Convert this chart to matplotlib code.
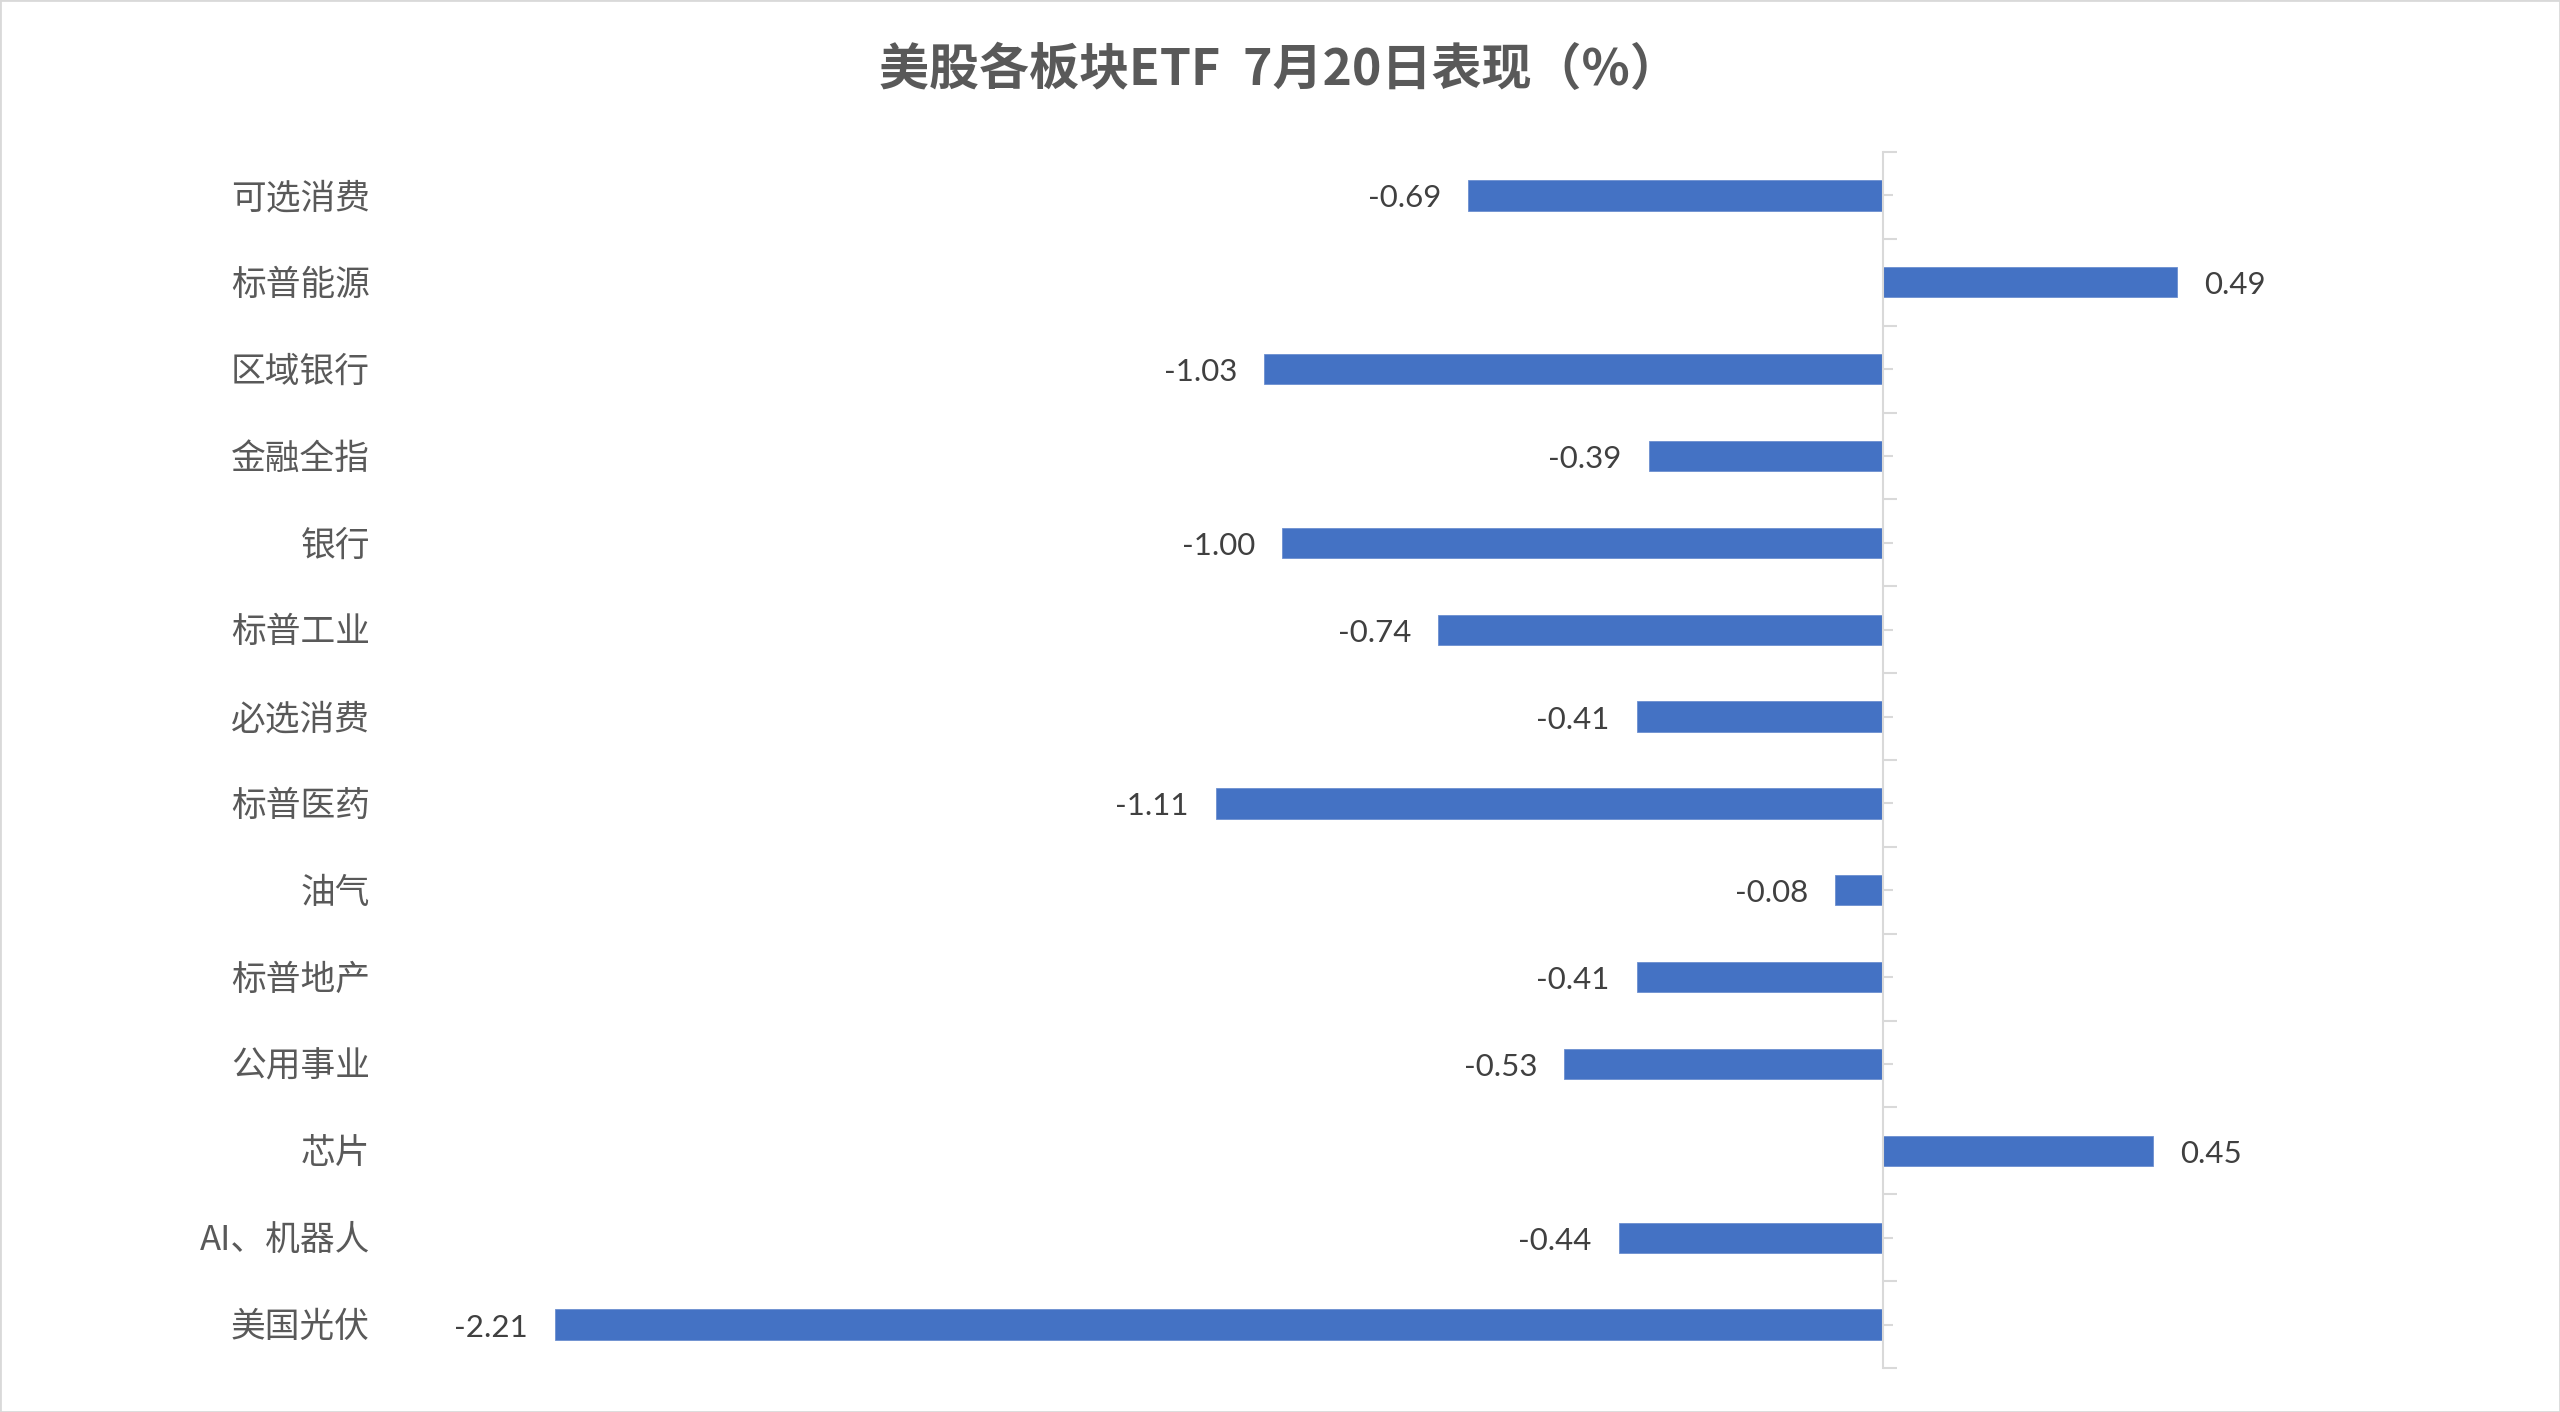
import numpy as np
import matplotlib
matplotlib.use("Agg")
import matplotlib.pyplot as plt
import matplotlib.transforms as mtransforms
from matplotlib.patches import Rectangle

plt.rcParams['font.family'] = ['Noto Sans CJK SC', 'DejaVu Sans']

# data, top to bottom
categories = ["可选消费", "标普能源", "区域银行", "金融全指", "银行", "标普工业", "必选消费",
              "标普医药", "油气", "标普地产", "公用事业", "芯片", "AI、机器人", "美国光伏"]
values = [-0.69, 0.49, -1.03, -0.39, -1.00, -0.74, -0.41,
          -1.11, -0.08, -0.41, -0.53, 0.45, -0.44, -2.21]
title = "美股各板块ETF  7月20日表现（%）"

bar_color = "#4472C4"
axis_grey = "#D9D9D9"
text_grey = "#595959"

W, H, DPI = 2560, 1412, 100
fig = plt.figure(figsize=(W / DPI, H / DPI), dpi=DPI)
fig.patch.set_facecolor("white")
fig.patches.append(Rectangle((0, 0), 1, 1, transform=fig.transFigure,
                             fill=False, edgecolor=axis_grey, linewidth=2))

# plot area in pixels
top_px, bot_px = 152, 1368
left_px, right_px = 380.5, 2484
ax = fig.add_axes([left_px / W, 1 - bot_px / H,
                   (right_px - left_px) / W, (bot_px - top_px) / H])

n = len(categories)
y = np.arange(n)
ax.barh(y, values, height=0.35, color=bar_color, edgecolor="#6C8FD0", linewidth=0.6, zorder=2)

ax.set_xlim(-2.5, 1.0)
ax.set_ylim(n - 0.5, -0.5)

for s in ["top", "right", "bottom"]:
    ax.spines[s].set_visible(False)
ax.spines["left"].set_position(("data", 0))
ax.spines["left"].set_color(axis_grey)
ax.spines["left"].set_linewidth(1.5)
ax.spines["left"].set_zorder(3)

ax.set_xticks([])
ax.set_yticks(np.arange(-0.5, n, 1.0))
ax.set_yticks(y, minor=True)
ax.tick_params(axis="y", which="major", direction="in", length=10, width=1.5,
               color=axis_grey, labelleft=False)
ax.tick_params(axis="y", which="minor", direction="in", length=7, width=1.5,
               color=axis_grey, labelleft=False)

# category labels
trans = mtransforms.blended_transform_factory(fig.transFigure, ax.transData)
trans = mtransforms.offset_copy(trans, fig=fig, x=0, y=-3, units="dots")
for yi, cat in zip(y, categories):
    ax.text(370 / W, yi, cat, transform=trans, ha="right", va="center",
            fontsize=25, fontweight="medium", color=text_grey)

# value labels
px_per_unit = (right_px - left_px) / 3.5
gap = 27 / px_per_unit
vtrans = mtransforms.offset_copy(ax.transData, fig=fig, x=0, y=-3, units="dots")
for yi, v in zip(y, values):
    if v < 0:
        ax.text(v - gap, yi, f"{v:.2f}", transform=vtrans, ha="right", va="center",
                fontsize=22.5, color="#404040", family=["Lato", "DejaVu Sans"])
    else:
        ax.text(v + gap, yi, f"{v:.2f}", transform=vtrans, ha="left", va="center",
                fontsize=22.5, color="#404040", family=["Lato", "DejaVu Sans"])

fig.text(1279 / W, 1 - 70 / H, title, ha="center", va="center",
         fontsize=36, fontweight="bold", color=text_grey)

fig.savefig("out.png", dpi=DPI, facecolor="white")
